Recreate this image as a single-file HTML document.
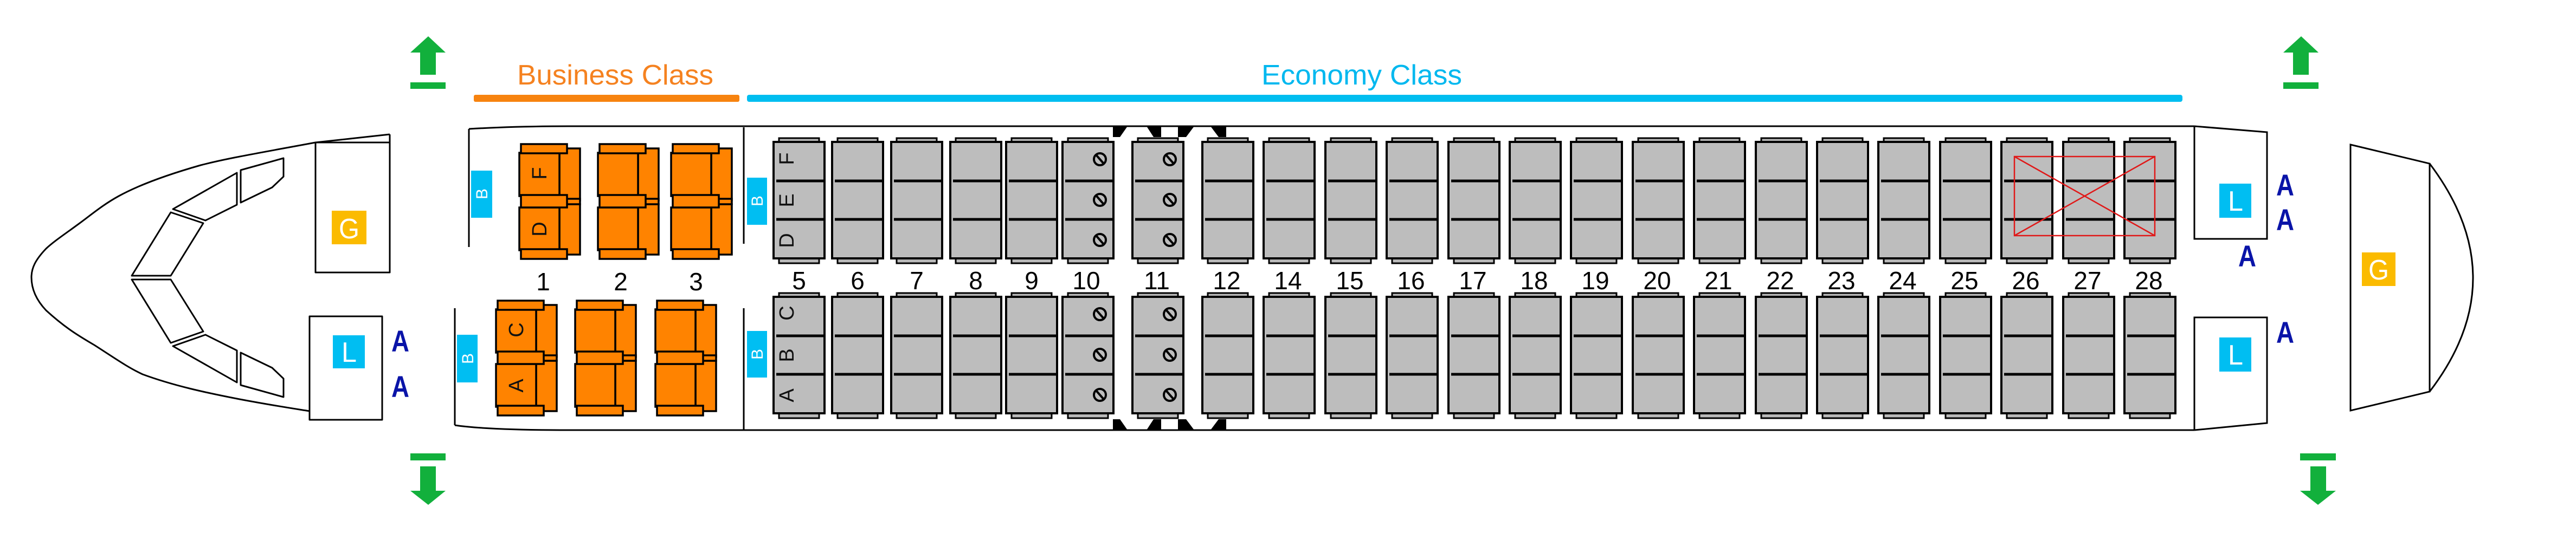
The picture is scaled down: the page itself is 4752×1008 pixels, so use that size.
<!DOCTYPE html>
<html><head><meta charset="utf-8"><style>html,body{margin:0;padding:0;background:#fff}svg{display:block}</style></head>
<body>
<svg width="4752" height="1008" viewBox="0 0 4752 1008" xmlns="http://www.w3.org/2000/svg" font-family="'Liberation Sans', sans-serif">
<defs>
<g id="es" stroke="#000" stroke-width="4">
<rect x="10" y="0" width="74" height="10" fill="#b9b9b9" stroke-width="3"/>
<rect x="10" y="220" width="74" height="11" fill="#b9b9b9" stroke-width="3"/>
<rect x="0" y="7" width="94" height="215" fill="#bdbdbd"/>
<line x1="5" y1="79" x2="93" y2="79" stroke-width="5"/>
<line x1="5" y1="150" x2="93" y2="150" stroke-width="5"/>
</g>
<g id="cs" fill="none" stroke="#000" stroke-width="4">
<circle cx="0" cy="0" r="11"/><line x1="-7" y1="-8" x2="7" y2="8"/>
</g>
<g id="bs" stroke="#000" stroke-width="3.5" fill="#ff8300">
<rect x="74" y="8" width="38" height="96"/>
<rect x="74" y="111" width="38" height="93"/>
<rect x="86" y="101" width="26" height="10"/>
<rect x="0" y="16" width="74" height="80"/>
<rect x="0" y="117" width="74" height="79"/>
<rect x="3" y="0" width="85" height="17"/>
<rect x="3" y="94" width="85" height="23"/>
<rect x="3" y="194" width="85" height="18"/>
</g>
</defs>

<!-- arrows -->
<g fill="#12b03c">
<polygon points="757,97 822,97 790,67"/><rect x="775" y="96" width="29" height="42"/><rect x="757" y="152" width="65" height="12"/>
<rect x="757" y="837" width="65" height="13"/><rect x="775" y="861" width="29" height="46"/><polygon points="757,906 822,906 790,932"/>
<polygon points="4212,97 4277,97 4245,67"/><rect x="4230" y="96" width="29" height="42"/><rect x="4212" y="152" width="65" height="12"/>
<rect x="4243" y="837" width="66" height="13"/><rect x="4262" y="861" width="29" height="46"/><polygon points="4243,906 4309,906 4276,932"/>
</g>

<!-- class bars -->
<text x="954" y="156" font-size="52" fill="#f58220" textLength="362" lengthAdjust="spacingAndGlyphs">Business Class</text>
<rect x="874" y="175" width="490" height="13" rx="3" fill="#f7830f"/>
<text x="2327" y="156" font-size="52" fill="#00b8ef" textLength="370" lengthAdjust="spacingAndGlyphs">Economy Class</text>
<rect x="1378" y="175" width="2648" height="13" rx="4" fill="#00bef0"/>

<!-- nose -->
<g fill="none" stroke="#000" stroke-width="3" stroke-linejoin="round">
<path d="M719,248 L582,263 C480,282 420,292 370,305 C300,325 250,345 219,362 C190,378 170,395 147,412 C120,432 100,445 85,459 C65,480 58,495 58,512 C58,535 68,555 85,573 C120,605 145,620 174,637 C210,660 235,678 263,691 C320,712 380,725 442,737 C500,748 540,754 571,759 L705,775"/>
<rect x="582" y="263" width="137" height="240" fill="#fff"/>
<rect x="571" y="584" width="134" height="191" fill="#fff"/>
<line x1="719" y1="248" x2="719" y2="263"/>
<polygon points="315,392 375,412 315,509 243,509"/>
<polygon points="243,516 315,516 375,612 315,633"/>
<polygon points="319,386 437,319 437,378 379,407"/>
<polygon points="444,314 523,292 523,326 502,346 444,374"/>
<polygon points="319,639 437,706 437,647 379,618"/>
<polygon points="444,711 523,733 523,699 502,679 444,651"/>
</g>
<rect x="612" y="389" width="64" height="62" fill="#fbbb00"/>
<text x="644" y="440" font-size="52" fill="#fff" text-anchor="middle" textLength="38" lengthAdjust="spacingAndGlyphs">G</text>
<rect x="614" y="619" width="59" height="61" fill="#00bef2"/>
<text x="644" y="668" font-size="52" fill="#fff" text-anchor="middle" textLength="28" lengthAdjust="spacingAndGlyphs">L</text>
<g font-weight="bold" font-size="56" fill="#0a14a8">
<text x="722" y="649" textLength="33" lengthAdjust="spacingAndGlyphs">A</text>
<text x="722" y="733" textLength="33" lengthAdjust="spacingAndGlyphs">A</text>
<text x="4199" y="361" textLength="33" lengthAdjust="spacingAndGlyphs">A</text>
<text x="4199" y="425" textLength="33" lengthAdjust="spacingAndGlyphs">A</text>
<text x="4129" y="492" textLength="33" lengthAdjust="spacingAndGlyphs">A</text>
<text x="4199" y="633" textLength="33" lengthAdjust="spacingAndGlyphs">A</text>
</g>

<!-- cabin outline -->
<g fill="none" stroke="#000" stroke-width="3">
<path d="M865,238 Q950,233 1050,233 L4048,233"/>
<path d="M839,785 Q900,794 1050,794 L4048,794"/>
<line x1="865" y1="238" x2="865" y2="456"/>
<line x1="839" y1="569" x2="839" y2="785"/>
<line x1="1372" y1="235" x2="1372" y2="450"/>
<line x1="1372" y1="569" x2="1372" y2="794"/>
<polyline points="4048,233 4182,244 4182,441 4048,441 4048,233"/>
<polyline points="4048,794 4182,781 4182,586 4048,586 4048,794"/>
<path d="M4336,267 L4482,302 L4482,723 L4336,758 Z"/>
<path d="M4482,302 Q4642,514 4482,723"/>
</g>
<rect x="4094" y="339" width="59" height="63" fill="#00bef2"/>
<text x="4124" y="389" font-size="52" fill="#fff" text-anchor="middle" textLength="28" lengthAdjust="spacingAndGlyphs">L</text>
<rect x="4094" y="623" width="59" height="63" fill="#00bef2"/>
<text x="4124" y="673" font-size="52" fill="#fff" text-anchor="middle" textLength="28" lengthAdjust="spacingAndGlyphs">L</text>
<rect x="4357" y="466" width="62" height="62" fill="#fbbb00"/>
<text x="4388" y="516" font-size="52" fill="#fff" text-anchor="middle" textLength="38" lengthAdjust="spacingAndGlyphs">G</text>

<!-- exit markers -->
<g fill="#000">
<polygon points="2053,233 2080,233 2066,253 2053,253"/>
<polygon points="2115,233 2142,233 2142,253 2128,253"/>
<polygon points="2173,233 2203,233 2188,253 2173,253"/>
<polygon points="2233,233 2262,233 2262,253 2248,253"/>
<polygon points="2053,794 2080,794 2066,774 2053,774"/>
<polygon points="2115,794 2142,794 2142,774 2128,774"/>
<polygon points="2173,794 2203,794 2188,774 2173,774"/>
<polygon points="2233,794 2262,794 2262,774 2248,774"/>
</g>

<!-- B badges -->
<g fill="#00bef2">
<rect x="869" y="315" width="39" height="87"/>
<rect x="843" y="618" width="38" height="88"/>
<rect x="1378" y="328" width="37" height="87"/>
<rect x="1378" y="611" width="37" height="86"/>
</g>
<g font-size="30" fill="#fff" text-anchor="middle">
<text transform="translate(899,358) rotate(-90)">B</text>
<text transform="translate(873,662) rotate(-90)">B</text>
<text transform="translate(1407,371) rotate(-90)">B</text>
<text transform="translate(1407,654) rotate(-90)">B</text>
</g>

<!-- business seats -->
<use href="#bs" x="958" y="266"/>
<use href="#bs" x="1103" y="266"/>
<use href="#bs" x="1238" y="266"/>
<use href="#bs" x="915" y="555"/>
<use href="#bs" x="1061" y="555"/>
<use href="#bs" x="1209" y="555"/>

<!-- economy seats -->
<g>
<use href="#es" x="1427" y="255"/><use href="#es" x="1427" y="541"/>
<use href="#es" x="1535" y="255"/><use href="#es" x="1535" y="541"/>
<use href="#es" x="1644" y="255"/><use href="#es" x="1644" y="541"/>
<use href="#es" x="1753" y="255"/><use href="#es" x="1753" y="541"/>
<use href="#es" x="1856" y="255"/><use href="#es" x="1856" y="541"/>
<use href="#es" x="1960" y="255"/><use href="#es" x="1960" y="541"/>
<use href="#es" x="2089" y="255"/><use href="#es" x="2089" y="541"/>
<use href="#es" x="2218" y="255"/><use href="#es" x="2218" y="541"/>
<use href="#es" x="2331" y="255"/><use href="#es" x="2331" y="541"/>
<use href="#es" x="2445" y="255"/><use href="#es" x="2445" y="541"/>
<use href="#es" x="2558" y="255"/><use href="#es" x="2558" y="541"/>
<use href="#es" x="2672" y="255"/><use href="#es" x="2672" y="541"/>
<use href="#es" x="2785" y="255"/><use href="#es" x="2785" y="541"/>
<use href="#es" x="2898" y="255"/><use href="#es" x="2898" y="541"/>
<use href="#es" x="3012" y="255"/><use href="#es" x="3012" y="541"/>
<use href="#es" x="3125" y="255"/><use href="#es" x="3125" y="541"/>
<use href="#es" x="3239" y="255"/><use href="#es" x="3239" y="541"/>
<use href="#es" x="3352" y="255"/><use href="#es" x="3352" y="541"/>
<use href="#es" x="3465" y="255"/><use href="#es" x="3465" y="541"/>
<use href="#es" x="3579" y="255"/><use href="#es" x="3579" y="541"/>
<use href="#es" x="3692" y="255"/><use href="#es" x="3692" y="541"/>
<use href="#es" x="3806" y="255"/><use href="#es" x="3806" y="541"/>
<use href="#es" x="3919" y="255"/><use href="#es" x="3919" y="541"/>
</g>
<!-- no-recline symbols -->
<use href="#cs" x="2029" y="294"/><use href="#cs" x="2029" y="369"/><use href="#cs" x="2029" y="443"/>
<use href="#cs" x="2029" y="580"/><use href="#cs" x="2029" y="655"/><use href="#cs" x="2029" y="729"/>
<use href="#cs" x="2158" y="294"/><use href="#cs" x="2158" y="369"/><use href="#cs" x="2158" y="443"/>
<use href="#cs" x="2158" y="580"/><use href="#cs" x="2158" y="655"/><use href="#cs" x="2158" y="729"/>

<!-- red X -->
<g fill="none" stroke="#e01818" stroke-width="2.5">
<rect x="3716" y="289" width="259" height="146"/>
<line x1="3716" y1="289" x2="3975" y2="435"/>
<line x1="3716" y1="435" x2="3975" y2="289"/>
</g>

<!-- seat letters -->
<g font-size="38" fill="#111" text-anchor="middle">
<text transform="translate(1008,320) rotate(-90)">F</text>
<text transform="translate(1008,423) rotate(-90)">D</text>
<text transform="translate(965,609) rotate(-90)">C</text>
<text transform="translate(965,712) rotate(-90)">A</text>
<text transform="translate(1464,293) rotate(-90)">F</text>
<text transform="translate(1464,370) rotate(-90)">E</text>
<text transform="translate(1464,444) rotate(-90)">D</text>
<text transform="translate(1464,578) rotate(-90)">C</text>
<text transform="translate(1464,656) rotate(-90)">B</text>
<text transform="translate(1464,730) rotate(-90)">A</text>
</g>

<!-- row numbers -->
<g font-size="46" fill="#000" text-anchor="middle" font-family="'Liberation Sans Narrow','Liberation Sans',sans-serif">
<text x="1002" y="536">1</text>
<text x="1145" y="536">2</text>
<text x="1284" y="536">3</text>
<text x="1474" y="534">5</text>
<text x="1582" y="534">6</text>
<text x="1691" y="534">7</text>
<text x="1800" y="534">8</text>
<text x="1903" y="534">9</text>
<text x="2004" y="534">10</text>
<text x="2134" y="534">11</text>
<text x="2263" y="534">12</text>
<text x="2376" y="534">14</text>
<text x="2490" y="534">15</text>
<text x="2603" y="534">16</text>
<text x="2717" y="534">17</text>
<text x="2830" y="534">18</text>
<text x="2943" y="534">19</text>
<text x="3057" y="534">20</text>
<text x="3170" y="534">21</text>
<text x="3284" y="534">22</text>
<text x="3397" y="534">23</text>
<text x="3510" y="534">24</text>
<text x="3624" y="534">25</text>
<text x="3737" y="534">26</text>
<text x="3851" y="534">27</text>
<text x="3964" y="534">28</text>
</g>
</svg>
</body></html>
